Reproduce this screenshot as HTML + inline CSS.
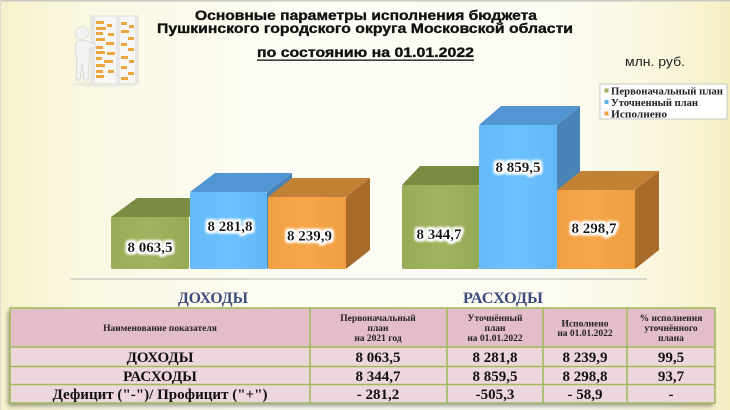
<!DOCTYPE html>
<html><head><meta charset="utf-8">
<style>
html,body{margin:0;padding:0;}
body{width:730px;height:410px;overflow:hidden;}
svg{display:block;}
</style></head>
<body>
<svg width="730" height="410" viewBox="0 0 730 410" xmlns="http://www.w3.org/2000/svg">
<defs>
  <linearGradient id="bgx" x1="0" y1="0" x2="1" y2="0">
    <stop offset="0" stop-color="#f7f2cc"/>
    <stop offset="0.12" stop-color="#faf8e2"/>
    <stop offset="0.4" stop-color="#fdfdf6"/>
    <stop offset="0.75" stop-color="#fcfcf4"/>
    <stop offset="0.92" stop-color="#f9f5da"/>
    <stop offset="1" stop-color="#f6efc4"/>
  </linearGradient>
  <linearGradient id="gF" x1="0" y1="0" x2="1" y2="0">
    <stop offset="0" stop-color="#98ac58"/><stop offset="0.5" stop-color="#a0b35f"/><stop offset="1" stop-color="#96a955"/>
  </linearGradient>
  <linearGradient id="bF" x1="0" y1="0" x2="1" y2="0">
    <stop offset="0" stop-color="#64bbf8"/><stop offset="0.5" stop-color="#6cc1ff"/><stop offset="1" stop-color="#62b8f6"/>
  </linearGradient>
  <linearGradient id="oF" x1="0" y1="0" x2="1" y2="0">
    <stop offset="0" stop-color="#f2a044"/><stop offset="0.5" stop-color="#f6a749"/><stop offset="1" stop-color="#ef9d40"/>
  </linearGradient>
  <filter id="glow" x="-20%" y="-40%" width="140%" height="180%">
    <feMorphology in="SourceAlpha" operator="dilate" radius="2.2" result="d"/>
    <feGaussianBlur in="d" stdDeviation="1.2" result="b"/>
    <feFlood flood-color="#ffffff"/>
    <feComposite in2="b" operator="in" result="w"/>
    <feMerge><feMergeNode in="w"/><feMergeNode in="w"/><feMergeNode in="SourceGraphic"/></feMerge>
  </filter>
  <filter id="shadow" x="-5%" y="-10%" width="110%" height="130%">
    <feGaussianBlur in="SourceAlpha" stdDeviation="2.5"/>
    <feOffset dx="-2" dy="3" result="o"/>
    <feComponentTransfer><feFuncA type="linear" slope="0.4"/></feComponentTransfer>
    <feMerge><feMergeNode/><feMergeNode in="SourceGraphic"/></feMerge>
  </filter>
</defs>

<!-- background -->
<rect x="0" y="0" width="730" height="410" fill="url(#bgx)"/>
<rect x="0" y="0" width="730" height="1.5" fill="#c8c8c4"/>
<rect x="0" y="0" width="1" height="410" fill="#dcdcd0"/>

<!-- abacus figure -->
<g>
  <ellipse cx="104" cy="84" rx="32" ry="3" fill="#e2e2dc" opacity="0.6"/>
  <rect x="91" y="16" width="47" height="68" fill="#f6f6f4" stroke="#dcdcdc" stroke-width="1"/>
  <rect x="92" y="16" width="3" height="68" fill="#e6e6e6"/>
  <rect x="116" y="16" width="4" height="68" fill="#e8e8e8"/>
  <rect x="135" y="16" width="3" height="68" fill="#e6e6e6"/>
  <g fill="#eba642">
    <rect x="96" y="21" width="8" height="3"/><rect x="107" y="24" width="5" height="3"/>
    <rect x="96" y="27" width="10" height="3"/><rect x="96" y="32" width="7" height="3"/>
    <rect x="108" y="33" width="6" height="3"/><rect x="96" y="38" width="9" height="3"/>
    <rect x="106" y="42" width="8" height="3"/><rect x="96" y="46" width="7" height="3"/>
    <rect x="96" y="51" width="9" height="3"/><rect x="107" y="52" width="8" height="3"/>
    <rect x="96" y="57" width="6" height="3"/><rect x="104" y="60" width="9" height="3"/>
    <rect x="96" y="64" width="9" height="3"/><rect x="96" y="70" width="7" height="3"/>
    <rect x="108" y="70" width="6" height="3"/><rect x="96" y="75" width="8" height="3"/>
    <rect x="121" y="22" width="6" height="3"/><rect x="129" y="25" width="5" height="3"/>
    <rect x="121" y="30" width="8" height="3"/><rect x="128" y="37" width="6" height="3"/>
    <rect x="121" y="43" width="6" height="3"/><rect x="128" y="48" width="6" height="3"/>
    <rect x="121" y="56" width="7" height="3"/><rect x="129" y="60" width="5" height="3"/>
    <rect x="121" y="66" width="6" height="3"/><rect x="128" y="72" width="6" height="3"/>
    <rect x="121" y="77" width="7" height="3"/>
  </g>
  <!-- person -->
  <circle cx="82" cy="33" r="6.5" fill="#f2f2f2" stroke="#d6d6d6" stroke-width="0.8"/>
  <path d="M76,42 Q82,39 90,42 L95,44 L96,48 L90,48 L89,60 L88,80 L84,80 L82,64 L80,80 L76,80 L77,60 L75,50 Z" fill="#f3f3f3" stroke="#d4d4d4" stroke-width="0.8"/>
</g>

<!-- title -->
<g font-family="'Liberation Sans', Arial, sans-serif" font-weight="bold" fill="#111" stroke="#111" stroke-width="0.35">
  <text x="195" y="20" font-size="13.5" textLength="342" lengthAdjust="spacingAndGlyphs">Основные параметры исполнения бюджета</text>
  <text x="157" y="33" font-size="13.5" textLength="416" lengthAdjust="spacingAndGlyphs">Пушкинского городского округа Московской области</text>
  <text x="257" y="57" font-size="13.5" textLength="217" lengthAdjust="spacingAndGlyphs">по состоянию на 01.01.2022</text>
</g>
<rect x="257" y="59.5" width="217" height="1.3" fill="#111"/>
<text x="625" y="66" font-family="'Liberation Sans', Arial, sans-serif" font-size="13" fill="#222" textLength="60" lengthAdjust="spacingAndGlyphs">млн. руб.</text>

<!-- legend -->
<rect x="600" y="84" width="127" height="35" fill="#ffffff" stroke="#bdbdbd" stroke-width="0.8"/>
<rect x="604.5" y="88.5" width="4" height="4" fill="#9bb05c"/>
<rect x="604.5" y="100" width="4" height="4" fill="#5eb3ef"/>
<rect x="604.5" y="111.5" width="4" height="4" fill="#f0a044"/>
<g font-family="'Liberation Serif', 'Times New Roman', serif" font-weight="bold" font-size="10" fill="#222">
  <text x="611" y="94.5" textLength="112" lengthAdjust="spacingAndGlyphs">Первоначальный план</text>
  <text x="611" y="106" textLength="87" lengthAdjust="spacingAndGlyphs">Уточненный план</text>
  <text x="611" y="117.5" textLength="56" lengthAdjust="spacingAndGlyphs">Исполнено</text>
</g>

<!-- baseline -->
<rect x="70" y="278.5" width="577" height="1" fill="#b5b5b5"/>

<!-- ДОХОДЫ bars -->
<polygon points="111,217 137,198 215,198 189,217" fill="#7a8b42"/>
<rect x="111" y="217" width="78" height="52" rx="1.5" fill="url(#gF)"/>
<polygon points="267,192 292,173 292,250 267,269" fill="#4a83b6"/>
<polygon points="190,192 215,173 292,173 267,192" fill="#5196d2"/>
<rect x="190" y="192" width="77" height="77" rx="1.5" fill="url(#bF)"/>
<polygon points="346,197 370,178 370,250 346,269" fill="#a86b2c"/>
<polygon points="268,197 292,178 370,178 346,197" fill="#c28236"/>
<rect x="268" y="197" width="78" height="72" rx="1.5" fill="url(#oF)"/>

<!-- РАСХОДЫ bars -->
<polygon points="402,185 420,166 497,166 479,185" fill="#7a8b42"/>
<rect x="402" y="185" width="77" height="84" rx="1.5" fill="url(#gF)"/>
<polygon points="557,125 580,106 580,250 557,269" fill="#4a83b6"/>
<polygon points="479,125 501,106 580,106 557,125" fill="#5196d2"/>
<rect x="479" y="125" width="78" height="144" rx="1.5" fill="url(#bF)"/>
<polygon points="635,190 659,171 659,250 635,269" fill="#a86b2c"/>
<polygon points="557,190 581,171 659,171 635,190" fill="#c28236"/>
<rect x="557" y="190" width="78" height="79" rx="1.5" fill="url(#oF)"/>

<!-- bar labels -->
<g font-family="'Liberation Serif', 'Times New Roman', serif" font-weight="bold" font-size="15" fill="#111" text-anchor="middle" filter="url(#glow)">
  <text x="150" y="252">8 063,5</text>
  <text x="230" y="231">8 281,8</text>
  <text x="309.5" y="240.5">8 239,9</text>
  <text x="439" y="239">8 344,7</text>
  <text x="518" y="172">8 859,5</text>
  <text x="594" y="233">8 298,7</text>
</g>

<!-- category labels -->
<g font-family="'Liberation Serif', 'Times New Roman', serif" font-weight="bold" font-size="16" fill="#3d4b7d">
  <text x="178" y="303" textLength="70" lengthAdjust="spacingAndGlyphs">ДОХОДЫ</text>
  <text x="463" y="303" textLength="80" lengthAdjust="spacingAndGlyphs">РАСХОДЫ</text>
</g>

<!-- table -->
<g filter="url(#shadow)">
  <rect x="10" y="308" width="705" height="39" fill="#e3bdc8"/>
  <rect x="10" y="347" width="705" height="56" fill="#eed6dd"/>
</g>
<g stroke="#9cbb58" stroke-width="1.5" fill="none">
  <rect x="10" y="308" width="705" height="95"/>
  <line x1="10" y1="347" x2="715" y2="347"/>
  <line x1="10" y1="366.5" x2="715" y2="366.5"/>
  <line x1="10" y1="384.5" x2="715" y2="384.5"/>
  <line x1="310" y1="308" x2="310" y2="403"/>
  <line x1="447" y1="308" x2="447" y2="403"/>
  <line x1="543" y1="308" x2="543" y2="403"/>
  <line x1="627" y1="308" x2="627" y2="403"/>
</g>
<g font-family="'Liberation Serif', 'Times New Roman', serif" font-weight="bold" font-size="9.5" fill="#222" text-anchor="middle">
  <text x="160" y="331">Наименование показателя</text>
  <text x="378" y="321">Первоначальный</text>
  <text x="378" y="331">план</text>
  <text x="378" y="341">на 2021 год</text>
  <text x="495" y="321">Уточнённый</text>
  <text x="495" y="331">план</text>
  <text x="495" y="341">на 01.01.2022</text>
  <text x="585" y="326.5">Исполнено</text>
  <text x="585" y="336">на 01.01.2022</text>
  <text x="671" y="321">% исполнения</text>
  <text x="671" y="331">уточнённого</text>
  <text x="671" y="341">плана</text>
</g>
<g font-family="'Liberation Serif', 'Times New Roman', serif" font-weight="bold" font-size="15" fill="#111" text-anchor="middle">
  <text x="160" y="362">ДОХОДЫ</text>
  <text x="160" y="381">РАСХОДЫ</text>
  <text x="160" y="399" textLength="215" lengthAdjust="spacingAndGlyphs">Дефицит ("-")/ Профицит ("+")</text>
  <text x="378" y="362">8 063,5</text>
  <text x="495" y="362">8 281,8</text>
  <text x="585" y="362">8 239,9</text>
  <text x="671" y="362">99,5</text>
  <text x="378" y="381">8 344,7</text>
  <text x="495" y="381">8 859,5</text>
  <text x="585" y="381">8 298,8</text>
  <text x="671" y="381">93,7</text>
  <text x="378" y="399">- 281,2</text>
  <text x="495" y="399">-505,3</text>
  <text x="585" y="399">- 58,9</text>
  <text x="671" y="399">-</text>
</g>
</svg>
</body></html>
